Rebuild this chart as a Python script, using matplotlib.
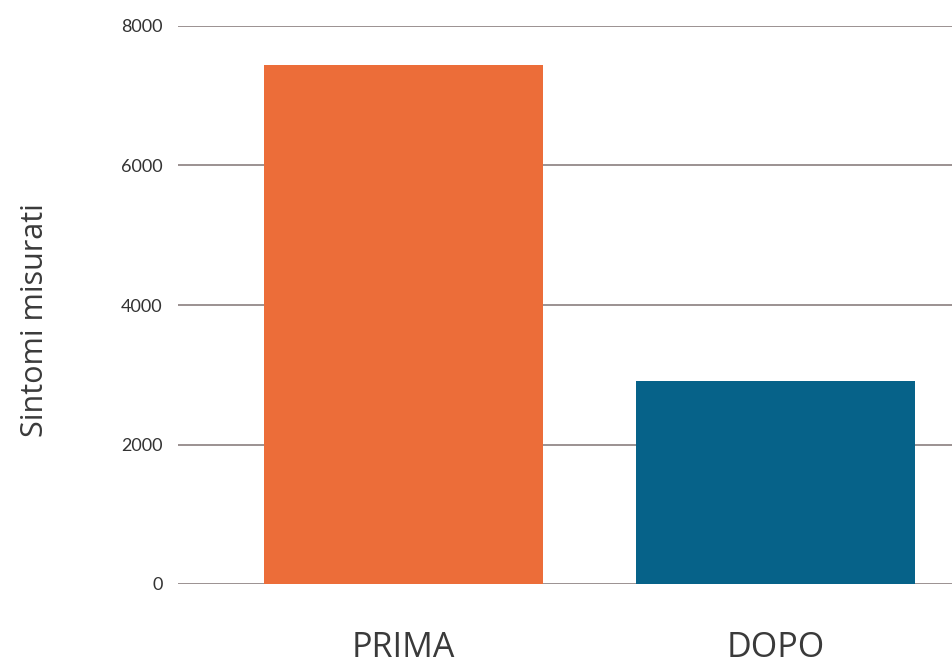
import matplotlib.pyplot as plt

# Data
categories = ["PRIMA", "DOPO"]
values = [7440, 2910]
colors = ["#EC6D39", "#066289"]
yticks = [0, 2000, 4000, 6000, 8000]

fig = plt.figure(figsize=(9.53, 6.66), dpi=100)
ax = fig.add_axes([178 / 953, 1 - 584 / 666, 1 - 178 / 953, (584 - 26) / 666])

# Gridlines behind the bars
ax.set_axisbelow(True)
ax.yaxis.grid(True, color="#8a7f7f", linewidth=1.2)

ax.bar(range(len(categories)), values, width=0.75, color=colors)

ax.set_xlim(-0.606, 1.477)
ax.set_ylim(0, 8000)
ax.set_yticks(yticks)
ax.set_yticklabels([str(v) for v in yticks], fontsize=13, family="Lato", color="#333333")
ax.tick_params(axis="y", length=0, pad=11)

ax.set_xticks(range(len(categories)))
ax.set_xticklabels(categories, fontsize=24.5, family="Open Sans", color="#3a3a3a")
ax.tick_params(axis="x", length=0, pad=34)

for s in ax.spines.values():
    s.set_visible(False)

fig.text(35 / 953, 1 - 320 / 666, "Sintomi misurati", rotation=90, ha="center", va="center",
         fontsize=22, family="Open Sans", color="#3a3a3a")

plt.savefig("out.png", dpi=100)
